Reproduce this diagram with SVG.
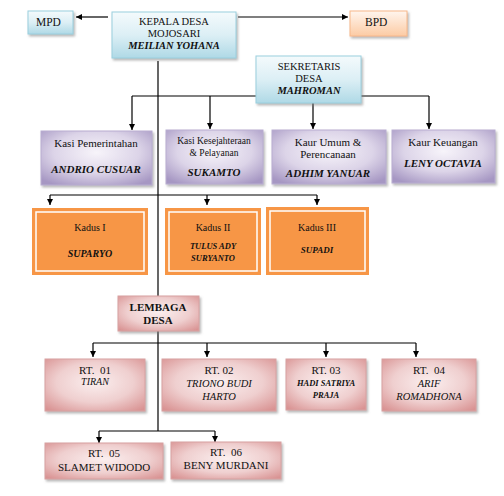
<svg xmlns="http://www.w3.org/2000/svg" width="504" height="496" viewBox="0 0 504 496">
<defs>
<linearGradient id="gBlue" x1="0" y1="0" x2="0" y2="1"><stop offset="0" stop-color="#F4FAFC"/><stop offset="0.5" stop-color="#DCEFF5"/><stop offset="1" stop-color="#AFD9E6"/></linearGradient>
<linearGradient id="gBpd" x1="0" y1="0" x2="0" y2="1"><stop offset="0" stop-color="#FFF5EE"/><stop offset="1" stop-color="#FCCBA4"/></linearGradient>
<radialGradient id="gPur" cx="0.5" cy="0.4" r="0.7"><stop offset="0" stop-color="#F7F4FA"/><stop offset="0.55" stop-color="#DCD4E8"/><stop offset="1" stop-color="#A697C3"/></radialGradient>
<radialGradient id="gPink" cx="0.5" cy="0.45" r="0.7"><stop offset="0" stop-color="#FBEFEF"/><stop offset="0.55" stop-color="#EFCFCF"/><stop offset="1" stop-color="#D99393"/></radialGradient>
<filter id="sh" x="-10%" y="-10%" width="130%" height="140%"><feDropShadow dx="1.5" dy="2" stdDeviation="1" flood-color="#808080" flood-opacity="0.55"/></filter>
<marker id="ar" viewBox="0 0 10 10" refX="10" refY="5" markerWidth="5" markerHeight="5" orient="auto"><path d="M0,0 L10,5 L0,10 z" fill="#000"/></marker>
<style>
text{font-family:'Liberation Serif','Times New Roman','DejaVu Serif',serif}
.t{fill:#111;text-anchor:middle}
.bi{font-weight:bold;font-style:italic}
.i{font-style:italic}
.blue{fill:url(#gBlue);stroke:#9ACFDE;stroke-width:1;filter:url(#sh)}
.bpd{fill:url(#gBpd);stroke:#F8B88A;stroke-width:1;filter:url(#sh)}
.pur{fill:url(#gPur);stroke:#B9AED1;stroke-width:1;filter:url(#sh)}
.pink{fill:url(#gPink);stroke:#D7A2A2;stroke-width:1;filter:url(#sh)}
.org{fill:#F79646;stroke:none}
.orgi{fill:none;stroke:#FFFFFF;stroke-width:1.5}
.c{fill:none;stroke:#000;stroke-width:1.2}
.a{fill:none;stroke:#000;stroke-width:1.2;marker-end:url(#ar)}
</style>
</defs>
<rect width="504" height="496" fill="#FFFFFF"/>

<g id="connectors">
<path class="a" d="M108,17 H76"/>
<path class="a" d="M238,17 H348"/>
<path class="c" d="M158,61 V296"/>
<path class="c" d="M158,331 V431"/>
<path class="c" d="M132,96 H256 M361,96 H429"/>
<path class="a" d="M132,96 V130"/>
<path class="a" d="M210,96 V129"/>
<path class="a" d="M313,103 V129"/>
<path class="a" d="M429,96 V129"/>
<path class="c" d="M50,195 H317"/>
<path class="a" d="M50,195 V205"/>
<path class="a" d="M207,195 V205"/>
<path class="a" d="M317,195 V205"/>
<path class="c" d="M93,343 H416"/>
<path class="a" d="M93,343 V357"/>
<path class="a" d="M207,343 V357"/>
<path class="a" d="M326,343 V357"/>
<path class="a" d="M416,343 V357"/>
<path class="c" d="M99,431 H215"/>
<path class="a" d="M99,431 V443"/>
<path class="a" d="M215,431 V442"/>
</g>

<g id="mpd">
<rect class="blue" x="28" y="11" width="45" height="23"/>
<text class="t" x="36" y="26" font-size="11.5" style="text-anchor:start">MPD</text>
</g>
<g id="kepala">
<rect class="blue" x="112" y="12" width="124" height="46"/>
<text class="t" x="174" y="25" font-size="10.5">KEPALA DESA</text>
<text class="t" x="174" y="37" font-size="10.5">MOJOSARI</text>
<text class="t bi" x="174" y="49" font-size="10.5">MEILIAN YOHANA</text>
</g>
<g id="bpd">
<rect class="bpd" x="350" y="11" width="57" height="25"/>
<text class="t" x="365" y="26" font-size="11.5" style="text-anchor:start">BPD</text>
</g>
<g id="sekretaris">
<rect class="blue" x="256" y="56" width="105" height="47"/>
<text class="t" x="309" y="70" font-size="10.5">SEKRETARIS</text>
<text class="t" x="309" y="82" font-size="10.5">DESA</text>
<text class="t bi" x="309" y="94" font-size="10.5">MAHROMAN</text>
</g>

<g id="kasi-pemerintahan">
<rect class="pur" x="41" y="131" width="111" height="54"/>
<text class="t" x="96" y="147" font-size="11">Kasi Pemerintahan</text>
<text class="t bi" x="96" y="173" font-size="11">ANDRIO CUSUAR</text>
</g>
<g id="kasi-kesejahteraan">
<rect class="pur" x="166" y="130" width="97" height="54"/>
<text class="t" x="214" y="144" font-size="9.5">Kasi Kesejahteraan</text>
<text class="t" x="214" y="156" font-size="9.5">&amp; Pelayanan</text>
<text class="t bi" x="214" y="176" font-size="11">SUKAMTO</text>
</g>
<g id="kaur-umum">
<rect class="pur" x="272" y="130" width="114" height="54"/>
<text class="t" x="328" y="146" font-size="11">Kaur Umum &amp;</text>
<text class="t" x="328" y="158" font-size="11">Perencanaan</text>
<text class="t bi" x="328" y="177" font-size="11">ADHIM YANUAR</text>
</g>
<g id="kaur-keuangan">
<rect class="pur" x="392" y="130" width="103" height="53"/>
<text class="t" x="443" y="146" font-size="11">Kaur Keuangan</text>
<text class="t bi" x="443" y="167" font-size="11">LENY OCTAVIA</text>
</g>

<g id="kadus-1">
<rect class="org" x="32" y="208" width="116" height="67"/>
<rect class="orgi" x="36" y="212" width="108" height="59"/>
<text class="t" x="90" y="231" font-size="10">Kadus I</text>
<text class="t bi" x="90" y="257" font-size="10">SUPARYO</text>
</g>
<g id="kadus-2">
<rect class="org" x="165" y="208" width="96" height="67"/>
<rect class="orgi" x="169" y="212" width="88" height="59"/>
<text class="t" x="213" y="231" font-size="10">Kadus II</text>
<text class="t bi" x="213" y="249" font-size="8.5">TULUS ADY</text>
<text class="t bi" x="213" y="261" font-size="8.5">SURYANTO</text>
</g>
<g id="kadus-3">
<rect class="org" x="266" y="207" width="103" height="68"/>
<rect class="orgi" x="270" y="211" width="95" height="60"/>
<text class="t" x="317" y="231" font-size="10">Kadus III</text>
<text class="t bi" x="317" y="253" font-size="9">SUPADI</text>
</g>

<g id="lembaga-desa">
<rect class="pink" x="118" y="296" width="81" height="35"/>
<text class="t" x="158" y="311" font-size="11" font-weight="bold">LEMBAGA</text>
<text class="t" x="158" y="324" font-size="11" font-weight="bold">DESA</text>
</g>

<g id="rt-01">
<rect class="pink" x="45" y="359" width="100" height="52"/>
<text class="t" x="95" y="374" font-size="11" xml:space="preserve">RT.  01</text>
<text class="t i" x="95" y="385" font-size="10">TIRAN</text>
</g>
<g id="rt-02">
<rect class="pink" x="162" y="359" width="114" height="52"/>
<text class="t" x="219" y="374" font-size="11">RT. 02</text>
<text class="t i" x="219" y="387" font-size="10.5">TRIONO BUDI</text>
<text class="t i" x="219" y="400" font-size="10.5">HARTO</text>
</g>
<g id="rt-03">
<rect class="pink" x="286" y="359" width="80" height="51"/>
<text class="t" x="326" y="374" font-size="11">RT. 03</text>
<text class="t bi" x="326" y="386" font-size="8.5">HADI SATRIYA</text>
<text class="t bi" x="326" y="398" font-size="8.5">PRAJA</text>
</g>
<g id="rt-04">
<rect class="pink" x="382" y="359" width="94" height="52"/>
<text class="t" x="429" y="374" font-size="11" xml:space="preserve">RT.  04</text>
<text class="t i" x="429" y="387" font-size="10.5">ARIF</text>
<text class="t i" x="429" y="400" font-size="10.5">ROMADHONA</text>
</g>
<g id="rt-05">
<rect class="pink" x="45" y="443" width="118" height="36"/>
<text class="t" x="104" y="457" font-size="11" xml:space="preserve">RT.  05</text>
<text class="t" x="104" y="471" font-size="11">SLAMET WIDODO</text>
</g>
<g id="rt-06">
<rect class="pink" x="171" y="442" width="110" height="37"/>
<text class="t" x="226" y="456" font-size="11" xml:space="preserve">RT.  06</text>
<text class="t" x="226" y="469" font-size="11">BENY MURDANI</text>
</g>
</svg>
